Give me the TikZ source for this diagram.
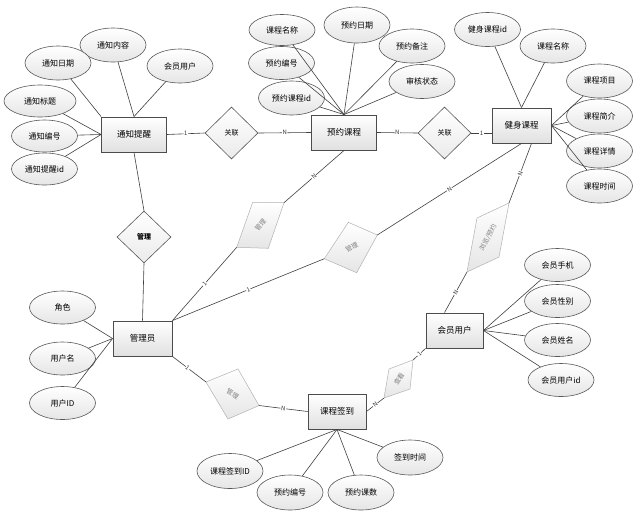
\documentclass[tikz,border=0pt]{standalone}
\usepackage{fontspec}
\setmainfont{Noto Sans CJK SC}
\usetikzlibrary{shapes.geometric,calc}
\begin{document}
\begin{tikzpicture}[x=1pt,y=-1pt,
  ent/.style={draw=black!70, line width=0.9pt, top color=white, bottom color=black!12, minimum height=35pt, inner sep=0pt, font=\fontsize{8.5}{10}\selectfont},
  attr/.style={ellipse, draw=black!65, line width=0.6pt, top color=white, bottom color=black!10, minimum width=66pt, minimum height=34pt, inner sep=0pt, font=\fontsize{8}{9}\selectfont},
  rel/.style={diamond, draw=black!65, line width=0.6pt, top color=white, bottom color=black!8, minimum width=53pt, minimum height=52pt, inner sep=0pt, font=\fontsize{7}{8}\selectfont},
  relg/.style={draw=black!30, line width=0.5pt, top color=white, bottom color=black!10},
  relgt/.style={text=black!50, font=\fontsize{6.5}{7}\selectfont, inner sep=0pt},
  conn/.style={draw=black!75, line width=0.6pt},
  card/.style={fill=white, inner sep=0.6pt, font=\fontsize{6}{6}\selectfont, sloped, text=black!80}]
\fill[white] (0,0) rectangle (642,512);
\useasboundingbox (0,0) rectangle (642,512);

% entities
\node[ent, minimum width=65pt] (tz) at (134,134.5) {通知提醒};
\node[ent, minimum width=65pt] (yy) at (344,132.5) {预约课程};
\node[ent, minimum width=59pt] (js) at (521.5,125.5) {健身课程};
\node[ent, minimum width=59pt] (gly) at (142.5,338.5) {管理员};
\node[ent, minimum width=57pt] (hy) at (454.5,330.5) {会员用户};
\node[ent, minimum width=58pt] (qd) at (337,411.5) {课程签到};

% plain relations
\node[rel] (gl1) at (231.5,133) {关联};
\node[rel] (gl2) at (444.5,133) {关联};
\node[rel, minimum width=54pt] (gl3) at (144,237) {\textbf{管理}};

% slanted relations
\coordinate (ma) at (252.7,202.3); \coordinate (mb) at (284,202.7);
\coordinate (mc) at (268.3,248.3); \coordinate (md) at (236.7,247.3);
\draw[relg] (ma) -- (mb) -- (mc) -- (md) -- cycle;
\node[relgt, rotate=50] (m1) at (260.4,225.2) {管理};

\coordinate (na) at (348.3,222.3); \coordinate (nb) at (377.3,235);
\coordinate (nc) at (356.7,272.7); \coordinate (nd) at (324.3,258.7);
\draw[relg] (na) -- (nb) -- (nc) -- (nd) -- cycle;
\node[relgt, rotate=28] (m2) at (351.7,247.4) {管理};

\coordinate (la) at (509,203); \coordinate (lb) at (499,257);
\coordinate (lc) at (467,272); \coordinate (ld) at (477,218);
\draw[relg] (la) -- (lb) -- (lc) -- (ld) -- cycle;
\node[relgt, rotate=62] (m3) at (488,237.5) {浏览/预约};

\coordinate (qa) at (238,369); \coordinate (qb) at (259,405.5);
\coordinate (qc) at (228,419); \coordinate (qe) at (206,382);
\draw[relg] (qa) -- (qb) -- (qc) -- (qe) -- cycle;
\node[relgt, rotate=-30] (m4) at (232.7,394) {管理};

\coordinate (ca) at (413,360); \coordinate (cb) at (410,389);
\coordinate (cc) at (384,398); \coordinate (cd) at (389,369);
\draw[relg] (ca) -- (cb) -- (cc) -- (cd) -- cycle;
\node[relgt, rotate=58] (m5) at (399,379) {查看};

% relation connectors
\draw[conn] (tz.east) -- node[card]{1} (gl1.west);
\draw[conn] (gl1.east) -- node[card]{N} (yy.west);
\draw[conn] (yy.east) -- node[card]{N} (gl2.west);
\draw[conn] (gl2.east) -- node[card]{1} (gl2.east -| js.west);
\draw[conn] (tz.south) -- (gl3.north);
\draw[conn] (gl3.south) -- (gly.north);
\draw[conn] (gly.north east) -- node[card]{1} (md);
\draw[conn] (mb) -- node[card]{N} (yy.south);
\draw[conn] (gly.north east) -- node[card]{1} (nd);
\draw[conn] (nb) -- node[card]{N} (js.south);
\draw[conn] ($(js.south)+(10,0)$) -- node[card]{N} (la);
\draw[conn] (lc) -- node[card]{N} ($(hy.north)+(-10,0)$);
\draw[conn] (gly.south east) -- node[card, pos=0.45]{1} (qe);
\draw[conn] (qb) -- node[card]{N} (qd.west);
\draw[conn] (qd.east) -- node[card]{N} (cc);
\draw[conn] (ca) -- node[card]{1} (hy.south west);

% attributes of 通知提醒
\node[attr] (a1) at (113,45) {通知内容};
\node[attr] (a2) at (58,63) {通知日期};
\node[attr] (a3) at (180,66) {会员用户};
\node[attr, minimum width=72pt, minimum height=32pt] (a4) at (40,101) {通知标题};
\node[attr, minimum height=32pt] (a5) at (44.5,136) {通知编号};
\node[attr, minimum height=32pt] (a6) at (44.5,169) {通知提醒id};
\draw[conn] (a1) -- (tz.north);
\draw[conn] (a3) -- (tz.north);
\draw[conn] (a2) -- (tz.north west);
\draw[conn] (a4) -- (tz.west);
\draw[conn] (a5) -- (tz.west);
\draw[conn] (a6) -- (tz.west);

% attributes of 预约课程
\node[attr, minimum height=31pt] (b1) at (282,30) {课程名称};
\node[attr, minimum height=36pt] (b2) at (357,25) {预约日期};
\node[attr] (b3) at (412,46) {预约备注};
\node[attr, minimum height=33pt] (b4) at (281.5,63) {预约编号};
\node[attr] (b5) at (422,81.5) {审核状态};
\node[attr] (b6) at (291.5,98) {预约课程id};
\foreach \n in {b1,b2,b3,b4,b5,b6} \draw[conn] (\n) -- (yy.north);

% attributes of 健身课程
\node[attr] (c1) at (487.5,29.5) {健身课程id};
\node[attr] (c2) at (553,46) {课程名称};
\node[attr] (c3) at (599.5,81) {课程项目};
\node[attr] (c4) at (599.5,116) {课程简介};
\node[attr] (c5) at (599.5,151) {课程详情};
\node[attr] (c6) at (599.5,186) {课程时间};
\draw[conn] (c1) -- (js.north);
\draw[conn] (c2) -- (js.north);
\foreach \n in {c3,c4,c5,c6} \draw[conn] (\n) -- (js.east);

% attributes of 管理员
\node[attr, minimum height=33pt] (d1) at (62.5,307.5) {角色};
\node[attr, minimum height=33pt] (d2) at (62.5,358.5) {用户名};
\node[attr, minimum height=33pt] (d3) at (62.5,403) {用户ID};
\foreach \n in {d1,d2,d3} \draw[conn] (\n) -- (gly.west);

% attributes of 会员用户
\node[attr, minimum height=33pt] (e1) at (557.5,265) {会员手机};
\node[attr, minimum height=33pt] (e2) at (557.5,301) {会员性别};
\node[attr, minimum height=33pt] (e3) at (557.5,340) {会员姓名};
\node[attr, minimum height=33pt] (e4) at (561,380) {会员用户id};
\foreach \n in {e1,e2,e3,e4} \draw[conn] (\n) -- (hy.east);

% attributes of 课程签到
\node[attr, minimum height=35pt] (f1) at (230,471) {课程签到ID};
\node[attr, minimum height=35pt] (f2) at (290,492.5) {预约编号};
\node[attr, minimum height=35pt] (f3) at (361,492.5) {预约课数};
\node[attr, minimum height=35pt] (f4) at (410,457.5) {签到时间};
\foreach \n in {f1,f2,f3,f4} \draw[conn] (\n) -- (qd.south);
\end{tikzpicture}
\end{document}
